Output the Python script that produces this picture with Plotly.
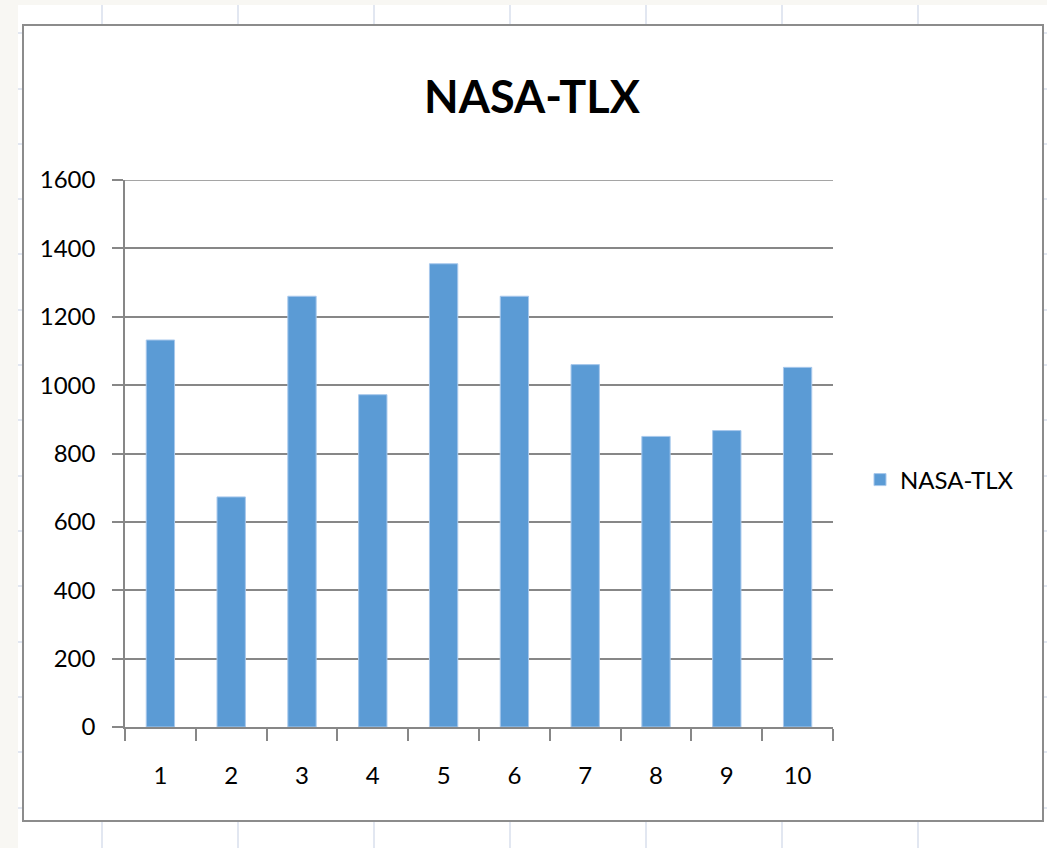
import plotly.graph_objects as go

# ---- data ----
categories = ["1", "2", "3", "4", "5", "6", "7", "8", "9", "10"]
values = [1132, 673, 1260, 972, 1355, 1260, 1060, 850, 867, 1052]
series_name = "NASA-TLX"
title_text = "NASA-TLX"
y_ticks = [0, 200, 400, 600, 800, 1000, 1200, 1400, 1600]

W, H = 1047, 848
FONT = "Lato"
GRID = "#878787"
BAR = "#5B9BD5"


def px(x):
    return x / W


def py(y):
    return 1 - y / H


shapes = []
# off-white spreadsheet strips
shapes.append(dict(type="rect", xref="paper", yref="paper", x0=0, x1=1, y0=py(5), y1=1,
                   fillcolor="#f8f7f3", line=dict(width=0), layer="below"))
shapes.append(dict(type="rect", xref="paper", yref="paper", x0=0, x1=px(18), y0=0, y1=1,
                   fillcolor="#f8f7f3", line=dict(width=0), layer="below"))
# spreadsheet cell grid lines
for gx in [102, 238, 374, 510, 646, 782, 918]:
    shapes.append(dict(type="line", xref="paper", yref="paper", x0=px(gx), x1=px(gx),
                       y0=py(5), y1=0, line=dict(color="#d9dfec", width=1.5), layer="below"))
for gy in [33, 89, 144, 199, 254, 310, 365, 420, 476, 531, 586, 642, 697, 752, 808]:
    shapes.append(dict(type="line", xref="paper", yref="paper", x0=px(18), x1=1,
                       y0=py(gy), y1=py(gy), line=dict(color="#d9dfec", width=1.5), layer="below"))
# chart area
shapes.append(dict(type="rect", xref="paper", yref="paper", x0=px(23), x1=px(1043),
                   y0=py(821), y1=py(25), fillcolor="white",
                   line=dict(color="#8c8c8c", width=2), layer="below"))
# top gridline (plotly drops the gridline at the range edge)
shapes.append(dict(type="line", xref="x domain", yref="y", x0=0, x1=1,
                   y0=y_ticks[-1], y1=y_ticks[-1], line=dict(color=GRID, width=1.5), layer="above"))

fig = go.Figure()
fig.add_trace(go.Bar(
    x=categories, y=values, name=series_name,
    marker=dict(color=BAR, line=dict(color="#a8c8ec", width=1)),
    showlegend=True,
))

fig.update_layout(
    width=W, height=H, autosize=False,
    margin=dict(l=0, r=0, t=0, b=0, pad=0, autoexpand=False),
    paper_bgcolor="white", plot_bgcolor="rgba(0,0,0,0)",
    font=dict(family=FONT, color="#000000"),
    title=dict(text=f"<b>{title_text}</b>", x=px(532), xanchor="center",
               y=py(97), yanchor="middle", automargin=False,
               font=dict(family=FONT, size=45, color="#000000")),
    bargap=0.6,
    showlegend=True,
    legend=dict(x=px(860), xanchor="left", y=py(480), yanchor="middle",
                font=dict(family=FONT, size=24, color="#000000"),
                bgcolor="rgba(0,0,0,0)", borderwidth=0),
    shapes=shapes,
    xaxis=dict(
        domain=[px(125), px(833)], type="category", automargin=False,
        showline=True, linecolor=GRID, linewidth=1.5,
        ticks="outside", tickson="boundaries", ticklen=12, tickcolor=GRID, tickwidth=1.5,
        showgrid=False, tickfont=dict(family=FONT, size=24, color="#000000"),
        ticklabelstandoff=26,
    ),
    yaxis=dict(
        domain=[py(727), py(180)], range=[0, 1600], tickvals=y_ticks, automargin=False,
        showline=True, linecolor=GRID, linewidth=1.5,
        showgrid=True, gridcolor=GRID, gridwidth=1.5, zeroline=False,
        ticks="outside", ticklen=11, tickcolor=GRID, tickwidth=1.5,
        tickfont=dict(family=FONT, size=24, color="#000000"),
        ticklabelstandoff=12,
    ),
)

fig.write_html("out.html")
